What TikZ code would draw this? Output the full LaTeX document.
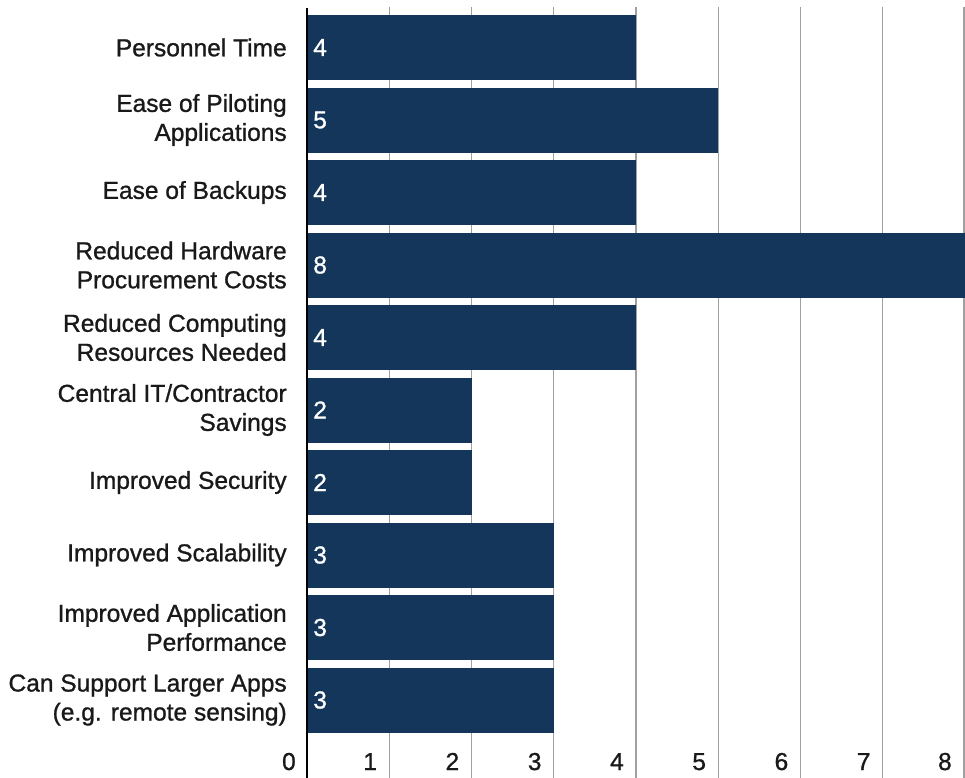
\documentclass[tikz,border=0pt]{standalone}
\usepackage{fontspec}
\setmainfont{Liberation Sans}[FakeBold=1.0]
\usepackage{tikz}

\definecolor{barblue}{RGB}{20,54,90}
\definecolor{gridgray}{RGB}{160,160,160}
\definecolor{labelblack}{RGB}{25,25,25}

\tikzset{
  bar/.style={fill=barblue,draw=none},
  gridline/.style={draw=gridgray,line width=1.1pt},
  catlabel/.style={anchor=east,align=right,text=labelblack,inner sep=0pt,font=\fontsize{18.4}{21.75}\selectfont},
  vallabel/.style={anchor=west,text=white,inner sep=0pt,font=\fontsize{18.4}{20}\selectfont},
  ticklabel/.style={anchor=base east,text=labelblack,inner sep=0pt,font=\fontsize{18.4}{20}\selectfont}
}

\begin{document}
\begin{tikzpicture}[line cap=butt,line join=miter,x=0.75pt,y=-0.75pt]
\useasboundingbox (0,0) rectangle (965,778);
% grid
\draw[gridline] (389.25,7) -- (389.25,778);
\draw[gridline] (471.5,7) -- (471.5,778);
\draw[gridline] (553.75,7) -- (553.75,778);
\draw[gridline] (636,7) -- (636,778);
\draw[gridline] (718.25,7) -- (718.25,778);
\draw[gridline] (800.5,7) -- (800.5,778);
\draw[gridline] (882.75,7) -- (882.75,778);
\draw[gridline] (964,7) -- (964,778);
% bars
\filldraw[bar] (307,15) rectangle (636,80);
\filldraw[bar] (307,87.5) rectangle (718.25,152.5);
\filldraw[bar] (307,160) rectangle (636,225);
\filldraw[bar] (307,232.5) rectangle (965,297.5);
\filldraw[bar] (307,305) rectangle (636,370);
\filldraw[bar] (307,377.5) rectangle (471.5,442.5);
\filldraw[bar] (307,450) rectangle (471.5,515);
\filldraw[bar] (307,522.5) rectangle (553.75,587.5);
\filldraw[bar] (307,595) rectangle (553.75,660);
\filldraw[bar] (307,667.5) rectangle (553.75,732.5);
% axis
\draw[line width=2pt,black] (307,8) -- (307,778);
% values
\node[vallabel] (v1) at (313,47.5) {4};
\node[vallabel] (v2) at (313,120) {5};
\node[vallabel] (v3) at (313,192.5) {4};
\node[vallabel] (v4) at (313,265) {8};
\node[vallabel] (v5) at (313,337.5) {4};
\node[vallabel] (v6) at (313,410) {2};
\node[vallabel] (v7) at (313,482.5) {2};
\node[vallabel] (v8) at (313,555) {3};
\node[vallabel] (v9) at (313,627.5) {3};
\node[vallabel] (v10) at (313,700) {3};
% categories
\node[catlabel] (c1) at (287,47.5) {Personnel Time};
\node[catlabel] (c2) at (287,120) {Ease of Piloting\\Applications};
\node[catlabel] (c3) at (287,192.5) {Ease of Backups};
\node[catlabel] (c4) at (287,265) {Reduced Hardware\\Procurement Costs};
\node[catlabel] (c5) at (287,337.5) {Reduced Computing\\Resources Needed};
\node[catlabel] (c6) at (287,410) {Central IT/Contractor\\Savings};
\node[catlabel] (c7) at (287,482.5) {Improved Security};
\node[catlabel] (c8) at (287,555) {Improved Scalability};
\node[catlabel] (c9) at (287,627.5) {Improved Application\\Performance};
\node[catlabel] (c10) at (287,700) {Can Support Larger Apps\\(e.g. remote sensing)};
% ticks
\node[ticklabel] (t0) at (296,770) {0};
\node[ticklabel] (t1) at (377.25,770) {1};
\node[ticklabel] (t2) at (459.5,770) {2};
\node[ticklabel] (t3) at (541.75,770) {3};
\node[ticklabel] (t4) at (624,770) {4};
\node[ticklabel] (t5) at (706.25,770) {5};
\node[ticklabel] (t6) at (788.5,770) {6};
\node[ticklabel] (t7) at (870.75,770) {7};
\node[ticklabel] (t8) at (952,770) {8};
\end{tikzpicture}
\end{document}
